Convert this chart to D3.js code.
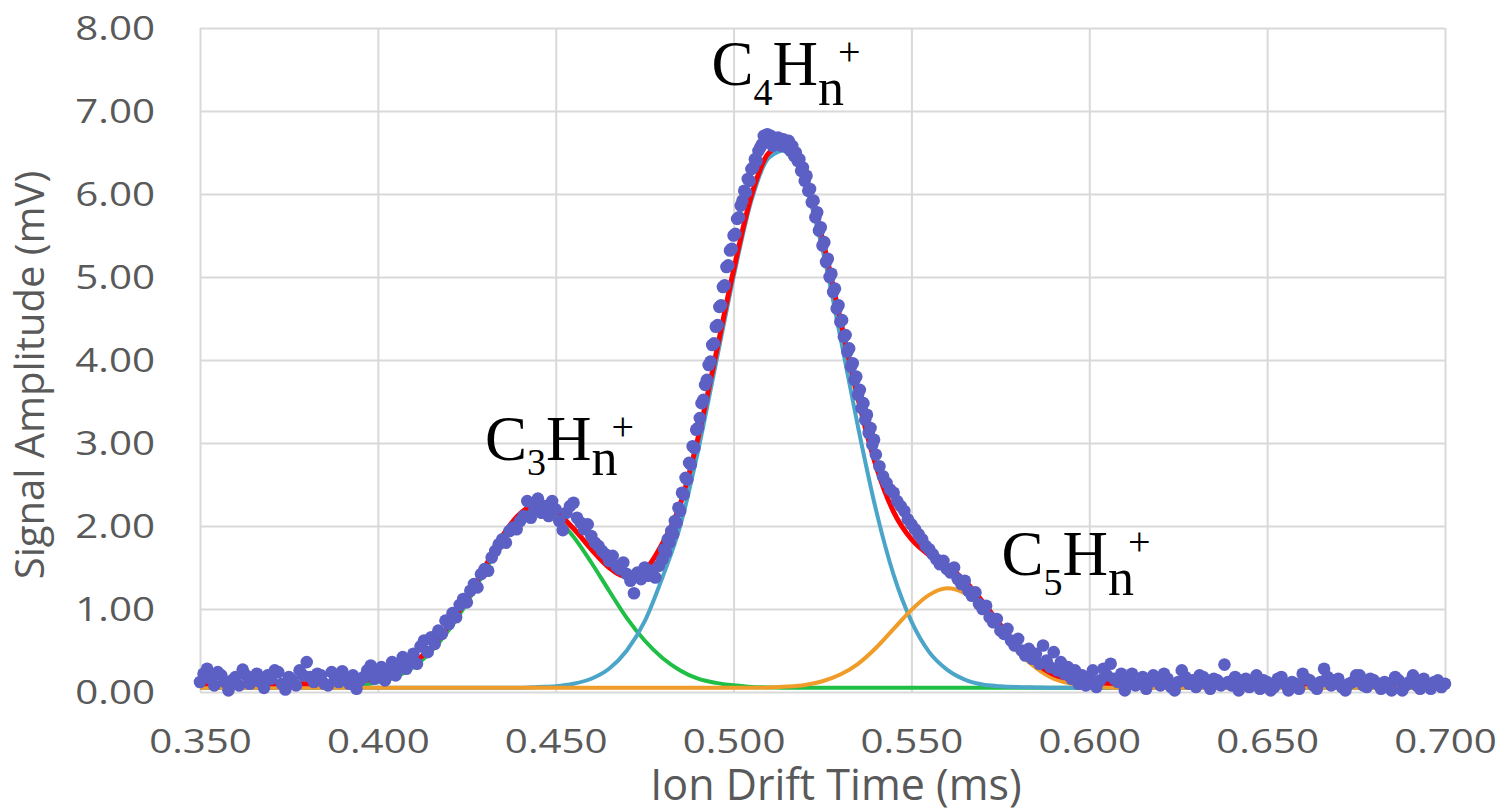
<!DOCTYPE html>
<html>
<head>
<meta charset="utf-8">
<script src="https://cdn.jsdelivr.net/npm/d3@7"></script>
<style>
  body { margin: 0; background: #fff; }
  text { font-family: "Open Sans", sans-serif; }
</style>
</head>
<body>
<script>
'use strict';

// measured drift times (ms) and signal (mV) of the scatter points
const driftTime = [
  0.350,0.351,0.352,0.353,0.354,0.355,0.356,0.357,0.358,0.359,0.360,0.361,0.362,0.363,0.364,
  0.365,0.366,0.367,0.368,0.369,0.370,0.371,0.372,0.373,0.374,0.375,0.376,0.377,0.378,0.379,
  0.380,0.381,0.382,0.383,0.384,0.385,0.386,0.387,0.388,0.389,0.390,0.391,0.392,0.393,0.394,
  0.395,0.396,0.397,0.398,0.399,
  0.400,0.401,0.402,0.403,0.404,0.405,0.406,0.407,0.408,0.409,0.410,0.411,0.412,0.413,0.414,
  0.415,0.416,0.417,0.418,0.419,0.420,0.421,0.422,0.423,0.424,0.425,0.426,0.427,0.428,0.429,
  0.430,0.431,0.432,0.433,0.434,0.435,0.436,0.437,0.438,0.439,0.440,0.441,0.442,0.443,0.444,
  0.445,0.446,0.447,0.448,0.449,0.450,0.451,0.452,0.453,0.454,0.455,0.456,0.457,0.458,0.459,
  0.460,0.461,0.462,0.463,0.464,0.465,0.466,0.467,0.468,0.469,0.470,0.471,0.472,0.473,0.474,
  0.475,0.476,0.477,0.478,0.479,
  0.4800,0.4805,0.4810,0.4815,0.4820,0.4825,0.4830,0.4835,0.4840,0.4845,
  0.4850,0.4855,0.4860,0.4865,0.4870,0.4875,0.4880,0.4885,0.4890,0.4895,
  0.4900,0.4905,0.4910,0.4915,0.4920,0.4925,0.4930,0.4935,0.4940,0.4945,
  0.4950,0.4955,0.4960,0.4965,0.4970,0.4975,0.4980,0.4985,0.4990,0.4995,
  0.5000,0.5005,0.5010,0.5015,0.5020,0.5025,0.5030,0.5035,0.5040,0.5045,
  0.5050,0.5055,0.5060,0.5065,0.5070,0.5075,0.5080,0.5085,0.5090,0.5095,
  0.5100,0.5105,0.5110,0.5115,0.5120,0.5125,0.5130,0.5135,0.5140,0.5145,
  0.5150,0.5155,0.5160,0.5165,0.5170,0.5175,0.5180,0.5185,0.5190,0.5195,
  0.5200,0.5205,0.5210,0.5215,0.5220,0.5225,0.5230,0.5235,0.5240,0.5245,
  0.5250,0.5255,0.5260,0.5265,0.5270,0.5275,0.5280,0.5285,0.5290,0.5295,
  0.5300,0.5305,0.5310,0.5315,0.5320,0.5325,0.5330,0.5335,0.5340,0.5345,
  0.5350,0.5355,0.5360,0.5365,0.5370,0.5375,0.5380,0.5385,0.5390,0.5395,
  0.540,0.541,0.542,0.543,0.544,0.545,0.546,0.547,0.548,0.549,0.550,0.551,0.552,0.553,0.554,
  0.555,0.556,0.557,0.558,0.559,0.560,0.561,0.562,0.563,0.564,0.565,0.566,0.567,0.568,0.569,
  0.570,0.571,0.572,0.573,0.574,0.575,0.576,0.577,0.578,0.579,0.580,0.581,0.582,0.583,0.584,
  0.585,0.586,0.587,0.588,0.589,0.590,0.591,0.592,0.593,0.594,0.595,0.596,0.597,0.598,0.599,
  0.600,0.601,0.602,0.603,0.604,0.605,0.606,0.607,0.608,0.609,0.610,0.611,0.612,0.613,0.614,
  0.615,0.616,0.617,0.618,0.619,0.620,0.621,0.622,0.623,0.624,0.625,0.626,0.627,0.628,0.629,
  0.630,0.631,0.632,0.633,0.634,0.635,0.636,0.637,0.638,0.639,0.640,0.641,0.642,0.643,0.644,
  0.645,0.646,0.647,0.648,0.649,0.650,0.651,0.652,0.653,0.654,0.655,0.656,0.657,0.658,0.659,
  0.660,0.661,0.662,0.663,0.664,0.665,0.666,0.667,0.668,0.669,0.670,0.671,0.672,0.673,0.674,
  0.675,0.676,0.677,0.678,0.679,0.680,0.681,0.682,0.683,0.684,0.685,0.686,0.687,0.688,0.689,
  0.690,0.691,0.692,0.693,0.694,0.695,0.696,0.697,0.698,0.699,0.700
];
const signal = [
  0.12,0.22,0.28,0.16,0.08,0.24,0.20,0.12,0.02,0.14,0.18,0.08,0.27,0.20,0.10,
  0.16,0.22,0.12,0.05,0.20,0.16,0.26,0.24,0.10,0.03,0.18,0.14,0.08,0.26,0.20,
  0.36,0.18,0.12,0.22,0.20,0.10,0.08,0.24,0.17,0.12,0.25,0.16,0.10,0.20,0.04,
  0.14,0.18,0.26,0.32,0.16,
  0.22,0.30,0.14,0.26,0.36,0.20,0.30,0.42,0.28,0.38,0.46,0.34,0.55,0.62,0.48,
  0.66,0.58,0.74,0.70,0.86,0.82,0.95,0.90,1.05,1.12,1.08,1.22,1.30,1.26,1.42,
  1.48,1.46,1.62,1.70,1.78,1.84,1.80,1.94,1.98,1.96,2.06,2.12,2.30,2.10,2.20,
  2.33,2.16,2.24,2.12,2.30,2.20,2.06,1.95,2.16,2.24,2.28,2.10,2.04,1.96,2.02,
  1.88,1.80,1.76,1.70,1.66,1.58,1.64,1.52,1.48,1.56,1.42,1.34,1.19,1.44,1.36,
  1.50,1.40,1.46,1.38,1.52,
  1.60,1.72,1.68,1.84,1.80,1.94,1.90,2.06,2.04,2.22,
  2.18,2.40,2.38,2.58,2.56,2.76,2.74,2.96,2.94,3.16,
  3.18,3.30,3.48,3.52,3.70,3.76,3.94,3.98,4.18,4.20,
  4.40,4.42,4.64,4.66,4.88,4.90,5.12,5.14,5.32,5.34,
  5.50,5.52,5.70,5.72,5.86,5.92,6.04,6.02,6.18,6.16,
  6.30,6.32,6.42,6.40,6.52,6.56,6.60,6.70,6.64,6.72,
  6.62,6.70,6.58,6.66,6.60,6.68,6.64,6.58,6.66,6.60,
  6.56,6.64,6.52,6.58,6.46,6.50,6.40,6.42,6.28,6.32,
  6.16,6.22,6.04,6.06,5.90,5.92,5.72,5.78,5.56,5.60,
  5.38,5.42,5.18,5.22,5.00,5.04,4.82,4.86,4.62,4.66,
  4.46,4.48,4.28,4.30,4.10,4.14,3.92,3.96,3.76,3.80,
  3.58,3.64,3.42,3.48,3.28,3.34,3.12,3.18,2.98,3.04,
  2.86,2.72,2.60,2.52,2.44,2.40,2.30,2.24,2.18,2.08,2.02,1.96,1.90,1.84,1.76,
  1.72,1.66,1.60,1.54,1.58,1.48,1.44,1.50,1.36,1.30,1.34,1.22,1.16,1.20,1.06,
  1.00,1.04,0.90,0.84,0.88,0.74,0.70,0.76,0.62,0.56,0.64,0.50,0.44,0.52,0.40,
  0.46,0.34,0.56,0.38,0.30,0.48,0.26,0.36,0.22,0.30,0.16,0.26,0.10,0.20,0.08,
  0.18,0.26,0.06,0.14,0.28,0.20,0.34,0.16,0.12,0.22,0.02,0.14,0.22,0.08,0.10,
  0.18,0.04,0.12,0.20,0.14,0.08,0.22,0.16,0.06,0.02,0.12,0.26,0.18,0.10,0.14,
  0.06,0.20,0.18,0.10,0.04,0.16,0.14,0.08,0.33,0.12,0.08,0.18,0.02,0.10,0.16,
  0.06,0.10,0.20,0.04,0.14,0.12,0.02,0.06,0.16,0.18,0.10,0.02,0.12,0.10,0.04,
  0.22,0.16,0.14,0.08,0.04,0.12,0.28,0.18,0.08,0.14,0.16,0.06,0.02,0.10,0.12,
  0.20,0.20,0.08,0.06,0.16,0.14,0.10,0.04,0.12,0.10,0.02,0.18,0.14,0.02,0.08,
  0.12,0.20,0.08,0.04,0.16,0.10,0.04,0.12,0.14,0.06,0.10
];

// fitted curves sampled every 0.005 ms
const fitTime = [
  0.350,0.355,0.360,0.365,0.370,0.375,0.380,0.385,0.390,0.395,
  0.400,0.405,0.410,0.415,0.420,0.425,0.430,0.435,0.440,0.445,
  0.450,0.455,0.460,0.465,0.470,0.475,0.480,0.485,0.490,0.495,
  0.500,0.505,0.510,0.515,0.520,0.525,0.530,0.535,0.540,0.545,
  0.550,0.555,0.560,0.565,0.570,0.575,0.580,0.585,0.590,0.595,
  0.600,0.605,0.610,0.615,0.620,0.625,0.630,0.635,0.640,0.645,
  0.650,0.655,0.660,0.665,0.670,0.675,0.680,0.685,0.690,0.695,0.700
];
const fitTotal = [
  0.10,0.10,0.10,0.10,0.10,0.10,0.10,0.105,0.115,0.13,
  0.17,0.23,0.35,0.54,0.80,1.12,1.50,1.88,2.15,2.26,
  2.17,1.97,1.72,1.50,1.39,1.47,1.79,2.26,3.06,4.06,
  5.08,5.98,6.50,6.60,6.22,5.46,4.49,3.53,2.73,2.17,
  1.84,1.65,1.52,1.34,1.09,0.81,0.54,0.345,0.21,0.15,
  0.12,0.105,0.10,0.10,0.10,0.10,0.10,0.10,0.10,0.10,
  0.10,0.10,0.10,0.10,0.10,0.10,0.10,0.10,0.10,0.10,0.10
];
const fitC3 = [
  0.05,0.05,0.05,0.05,0.05,0.05,0.05,0.055,0.065,0.08,
  0.12,0.18,0.30,0.49,0.75,1.07,1.45,1.83,2.10,2.20,
  2.10,1.87,1.56,1.22,0.89,0.62,0.41,0.26,0.16,0.11,
  0.08,0.06,0.055,0.05,0.05,0.05,0.05,0.05,0.05,0.05,
  0.05,0.05,0.05,0.05,0.05,0.05,0.05,0.05,0.05,0.05,
  0.05,0.05,0.05,0.05,0.05,0.05,0.05,0.05,0.05,0.05,
  0.05,0.05,0.05,0.05,0.05,0.05,0.05,0.05,0.05,0.05,0.05
];
const fitC4 = [
  0.05,0.05,0.05,0.05,0.05,0.05,0.05,0.05,0.05,0.05,
  0.05,0.05,0.05,0.05,0.05,0.05,0.05,0.05,0.05,0.06,
  0.07,0.10,0.16,0.28,0.50,0.85,1.38,2.00,2.90,3.95,
  5.00,5.92,6.44,6.53,6.13,5.33,4.28,3.19,2.20,1.41,
  0.85,0.48,0.27,0.15,0.09,0.07,0.06,0.055,0.05,0.05,
  0.05,0.05,0.05,0.05,0.05,0.05,0.05,0.05,0.05,0.05,
  0.05,0.05,0.05,0.05,0.05,0.05,0.05,0.05,0.05,0.05,0.05
];
const fitC5 = [
  0.05,0.05,0.05,0.05,0.05,0.05,0.05,0.05,0.05,0.05,
  0.05,0.05,0.05,0.05,0.05,0.05,0.05,0.05,0.05,0.05,
  0.05,0.05,0.05,0.05,0.05,0.05,0.05,0.05,0.05,0.05,
  0.05,0.05,0.055,0.065,0.085,0.13,0.21,0.34,0.53,0.76,
  0.99,1.17,1.25,1.19,1.00,0.74,0.48,0.29,0.16,0.10,
  0.07,0.055,0.05,0.05,0.05,0.05,0.05,0.05,0.05,0.05,
  0.05,0.05,0.05,0.05,0.05,0.05,0.05,0.05,0.05,0.05,0.05
];

const xTicks = [0.35, 0.40, 0.45, 0.50, 0.55, 0.60, 0.65, 0.70];
const yTicks = [0, 1, 2, 3, 4, 5, 6, 7, 8];

// peak labels: carbon count and where the label starts (ms, mV)
const peakIons = ['3', '4', '5'];
const peakLabelTime = [0.4301, 0.4938, 0.5753];
const peakLabelAmp = [2.80, 7.31, 1.41];
const peakSubDrop = [15, 20, 20];

const width = 1501, height = 809;
const plot = {left: 200, right: 1445, top: 28, bottom: 692};

const svg = d3.select('body').append('svg')
  .attr('width', width)
  .attr('height', height);

const x = d3.scaleLinear().domain([0.35, 0.70]).range([plot.left, plot.right]);
const y = d3.scaleLinear().domain([0, 8]).range([plot.bottom, plot.top]);

const tickStretch = 1.26; // tick labels in the picture are drawn wide

// y axis with grid lines
const yAxis = svg.append('g')
  .attr('transform', 'translate(' + plot.left + ',0)')
  .call(d3.axisLeft(y).tickValues(yTicks).tickFormat(d3.format('.2f'))
    .tickSize(-(plot.right - plot.left)));
yAxis.select('.domain').remove();
yAxis.selectAll('line').attr('stroke', '#d9d9d9').attr('stroke-width', 2);
yAxis.selectAll('text')
  .attr('x', -45 / tickStretch)
  .attr('dy', '0.36em')
  .attr('transform', 'scale(' + tickStretch + ',1)')
  .style('font-size', '32px')
  .style('font-family', '"Open Sans", sans-serif')
  .attr('fill', '#595959');

// x axis with grid lines
const xAxis = svg.append('g')
  .attr('transform', 'translate(0,' + plot.bottom + ')')
  .call(d3.axisBottom(x).tickValues(xTicks).tickFormat(d3.format('.3f'))
    .tickSize(-(plot.bottom - plot.top)));
xAxis.select('.domain').remove();
xAxis.selectAll('line').attr('stroke', '#d9d9d9').attr('stroke-width', 2);
xAxis.selectAll('text')
  .attr('y', 38)
  .attr('dy', '0.71em')
  .attr('transform', 'scale(' + tickStretch + ',1)')
  .style('font-size', '32px')
  .style('font-family', '"Open Sans", sans-serif')
  .attr('fill', '#595959');

// axis titles
svg.append('text')
  .attr('x', 836)
  .attr('y', 800)
  .attr('text-anchor', 'middle')
  .style('font-size', '43px')
  .attr('fill', '#595959')
  .text('Ion Drift Time (ms)');

svg.append('text')
  .attr('transform', 'translate(44,375)rotate(-90)')
  .attr('text-anchor', 'middle')
  .style('font-size', '40px')
  .attr('fill', '#595959')
  .text('Signal Amplitude (mV)');

// fitted curves
const fitLine = function(values) {
  return d3.line()
    .x((d, i) => x(fitTime[i]))
    .y(d => y(d))
    .curve(d3.curveMonotoneX)(values);
};

const curves = [
  {values: fitC3, color: '#1fbf45', w: 4},
  {values: fitC4, color: '#4aa5c8', w: 4},
  {values: fitC5, color: '#f09c28', w: 4},
  {values: fitTotal, color: '#ff0000', w: 5}
];
curves.forEach(c => {
  svg.append('path')
    .attr('d', fitLine(c.values))
    .attr('fill', 'none')
    .attr('stroke', c.color)
    .attr('stroke-width', c.w);
});

// measured points
svg.append('g')
  .selectAll('circle')
  .data(signal)
  .enter()
  .append('circle')
    .attr('cx', (d, i) => x(driftTime[i]))
    .attr('cy', d => y(d))
    .attr('r', 6.3)
    .attr('fill', '#5c60c4');

// peak labels C_xH_n^+
peakIons.forEach((ion, i) => {
  const drop = peakSubDrop[i];
  const t = svg.append('text')
    .attr('x', x(peakLabelTime[i]))
    .attr('y', y(peakLabelAmp[i]))
    .style('font-family', '"Liberation Serif", "Times New Roman", serif')
    .attr('fill', '#000');
  t.append('tspan').style('font-size', '63px').text('C');
  t.append('tspan').style('font-size', '38px').attr('dy', drop).text(ion);
  t.append('tspan').style('font-size', '63px').attr('dy', -drop).text('H');
  t.append('tspan').style('font-size', '52px').attr('dy', drop).text('n');
  t.append('tspan').style('font-size', '40px').attr('dx', -6).attr('dy', -drop - 20).text('+');
});
</script>
</body>
</html>
